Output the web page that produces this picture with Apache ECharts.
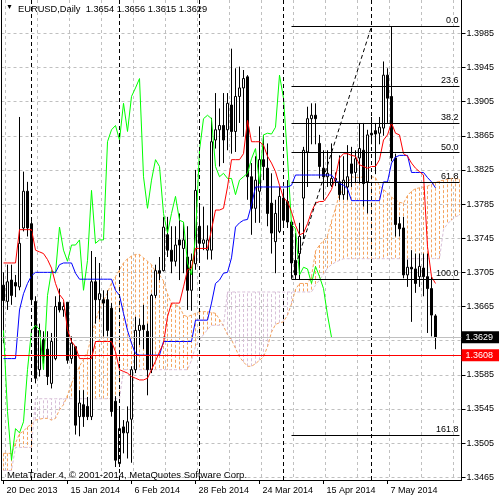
<!DOCTYPE html>
<html><head><meta charset="utf-8">
<script src="https://cdn.jsdelivr.net/npm/echarts@6/dist/echarts.min.js"></script>
<style>html,body{margin:0;padding:0;background:#fff}#c{width:500px;height:500px}</style>
</head><body><div id="c"></div>
<script>
const FONT = '"Liberation Sans", Arial, sans-serif';
const dates = [
'20 Dec 2013','23 Dec 2013','24 Dec 2013','26 Dec 2013','27 Dec 2013','30 Dec 2013','31 Dec 2013',
'2 Jan 2014','3 Jan 2014','6 Jan 2014','7 Jan 2014','8 Jan 2014','9 Jan 2014','10 Jan 2014','13 Jan 2014','14 Jan 2014','15 Jan 2014','16 Jan 2014','17 Jan 2014','20 Jan 2014','21 Jan 2014','22 Jan 2014','23 Jan 2014','24 Jan 2014','27 Jan 2014','28 Jan 2014','29 Jan 2014','30 Jan 2014','31 Jan 2014',
'3 Feb 2014','4 Feb 2014','5 Feb 2014','6 Feb 2014','7 Feb 2014','10 Feb 2014','11 Feb 2014','12 Feb 2014','13 Feb 2014','14 Feb 2014','17 Feb 2014','18 Feb 2014','19 Feb 2014','20 Feb 2014','21 Feb 2014','24 Feb 2014','25 Feb 2014','26 Feb 2014','27 Feb 2014','28 Feb 2014',
'3 Mar 2014','4 Mar 2014','5 Mar 2014','6 Mar 2014','7 Mar 2014','10 Mar 2014','11 Mar 2014','12 Mar 2014','13 Mar 2014','14 Mar 2014','17 Mar 2014','18 Mar 2014','19 Mar 2014','20 Mar 2014','21 Mar 2014','24 Mar 2014','25 Mar 2014','26 Mar 2014','27 Mar 2014','28 Mar 2014','31 Mar 2014',
'1 Apr 2014','2 Apr 2014','3 Apr 2014','4 Apr 2014','7 Apr 2014','8 Apr 2014','9 Apr 2014','10 Apr 2014','11 Apr 2014','14 Apr 2014','15 Apr 2014','16 Apr 2014','17 Apr 2014','18 Apr 2014','21 Apr 2014','22 Apr 2014','23 Apr 2014','24 Apr 2014','25 Apr 2014','28 Apr 2014','29 Apr 2014','30 Apr 2014',
'1 May 2014','2 May 2014','5 May 2014','6 May 2014','7 May 2014','8 May 2014','9 May 2014','12 May 2014','13 May 2014','14 May 2014','15 May 2014','16 May 2014','19 May 2014','20 May 2014','21 May 2014','22 May 2014','23 May 2014'];
const futureDates = ['26 May 2014','27 May 2014','28 May 2014','29 May 2014','30 May 2014','2 Jun 2014'];

const opens = [
1.3690,1.3671,1.3696,1.3693,1.3688,1.3757,1.3800,1.3762,1.3671,1.3591,
1.3626,1.3615,1.3575,1.3604,1.3670,1.3661,1.3670,1.3604,1.3618,1.3536,
1.3550,1.3548,1.3536,1.3694,1.3673,1.3673,1.3673,1.3663,1.3554,1.3481,
1.3524,1.3517,1.3533,1.3591,1.3637,1.3643,1.3636,1.3591,1.3678,1.3707,
1.3707,1.3749,1.3731,1.3718,1.3743,1.3733,1.3723,1.3684,1.3715,1.3759,
1.3739,1.3731,1.3731,1.3860,1.3872,1.3877,1.3872,1.3901,1.3870,1.3911,
1.3921,1.3934,1.3817,1.3780,1.3800,1.3837,1.3827,1.3786,1.3741,1.3753,
1.3792,1.3788,1.3764,1.3719,1.3727,1.3792,1.3846,1.3885,1.3889,1.3856,
1.3827,1.3817,1.3807,1.3813,1.3811,1.3796,1.3805,1.3832,1.3822,1.3839,
1.3848,1.3811,1.3866,1.3871,1.3868,1.3874,1.3936,1.3911,1.3839,1.3762,
1.3757,1.3702,1.3711,1.3709,1.3700,1.3710,1.3700,1.3686,1.3654];
const highs = [
1.3705,1.3714,1.3714,1.3702,1.3887,1.3823,1.3811,1.3765,1.3677,1.3645,
1.3636,1.3636,1.3634,1.3677,1.3686,1.3670,1.3670,1.3630,1.3618,1.3567,
1.3567,1.3559,1.3730,1.3723,1.3716,1.3684,1.3684,1.3669,1.3560,1.3545,
1.3532,1.3548,1.3595,1.3653,1.3651,1.3667,1.3645,1.3680,1.3714,1.3723,
1.3770,1.3770,1.3759,1.3759,1.3774,1.3764,1.3759,1.3727,1.3825,1.3782,
1.3782,1.3760,1.3886,1.3915,1.3897,1.3915,1.3915,1.3967,1.3944,1.3946,
1.3942,1.3936,1.3833,1.3841,1.3876,1.3866,1.3856,1.3821,1.3790,1.3805,
1.3803,1.3813,1.3766,1.3751,1.3763,1.3852,1.3899,1.3903,1.3903,1.3866,
1.3848,1.3848,1.3856,1.3822,1.3842,1.3841,1.3854,1.3852,1.3848,1.3880,
1.3880,1.3872,1.3887,1.3880,1.3887,1.3952,1.3944,1.3993,1.3844,1.3770,
1.3770,1.3720,1.3731,1.3727,1.3727,1.3727,1.3727,1.3700,1.3656];
const lows = [
1.3622,1.3661,1.3667,1.3676,1.3684,1.3753,1.3747,1.3669,1.3575,1.3583,
1.3598,1.3573,1.3569,1.3602,1.3658,1.3653,1.3598,1.3598,1.3515,1.3513,
1.3524,1.3532,1.3532,1.3645,1.3650,1.3630,1.3630,1.3536,1.3477,1.3477,
1.3493,1.3487,1.3482,1.3587,1.3620,1.3615,1.3561,1.3587,1.3675,1.3696,
1.3706,1.3723,1.3704,1.3712,1.3696,1.3704,1.3661,1.3660,1.3708,1.3719,
1.3731,1.3720,1.3720,1.3850,1.3829,1.3833,1.3848,1.3844,1.3846,1.3880,
1.3864,1.3790,1.3749,1.3763,1.3763,1.3813,1.3759,1.3727,1.3704,1.3751,
1.3759,1.3757,1.3698,1.3696,1.3696,1.3744,1.3805,1.3855,1.3855,1.3815,
1.3790,1.3805,1.3805,1.3806,1.3790,1.3790,1.3790,1.3805,1.3810,1.3809,
1.3782,1.3774,1.3855,1.3820,1.3855,1.3865,1.3880,1.3835,1.3747,1.3747,
1.3698,1.3688,1.3647,1.3681,1.3688,1.3677,1.3634,1.3630,1.3615];
const closes = [
1.3672,1.3694,1.3678,1.3689,1.3739,1.3800,1.3757,1.3673,1.3581,1.3637,
1.3606,1.3583,1.3624,1.3665,1.3661,1.3665,1.3602,1.3622,1.3526,1.3552,
1.3536,1.3536,1.3694,1.3673,1.3680,1.3669,1.3637,1.3542,1.3485,1.3522,
1.3517,1.3530,1.3591,1.3637,1.3643,1.3638,1.3591,1.3678,1.3707,1.3704,
1.3758,1.3731,1.3718,1.3737,1.3737,1.3743,1.3684,1.3719,1.3801,1.3739,
1.3743,1.3743,1.3858,1.3872,1.3877,1.3860,1.3903,1.3870,1.3911,1.3921,
1.3932,1.3817,1.3780,1.3813,1.3837,1.3829,1.3774,1.3751,1.3774,1.3794,
1.3766,1.3764,1.3716,1.3702,1.3747,1.3848,1.3885,1.3889,1.3885,1.3829,
1.3817,1.3821,1.3815,1.3815,1.3796,1.3813,1.3817,1.3821,1.3838,1.3850,
1.3809,1.3866,1.3868,1.3867,1.3875,1.3936,1.3909,1.3839,1.3761,1.3756,
1.3702,1.3711,1.3709,1.3692,1.3712,1.3700,1.3686,1.3655,1.3629];

const tenkan = [
1.3716,1.3716,1.3716,1.3716,1.3755,1.3755,1.3755,1.3755,1.3731,1.3729,
1.3727,1.3720,1.3710,1.3692,1.3679,1.3673,1.3638,1.3624,1.3618,1.3604,
1.3604,1.3604,1.3604,1.3624,1.3624,1.3624,1.3624,1.3624,1.3612,1.3591,
1.3589,1.3587,1.3583,1.3581,1.3579,1.3579,1.3581,1.3591,1.3601,1.3612,
1.3622,1.3653,1.3669,1.3669,1.3669,1.3688,1.3708,1.3710,1.3733,1.3733,
1.3733,1.3733,1.3755,1.3778,1.3778,1.3780,1.3805,1.3837,1.3837,1.3837,
1.3844,1.3883,1.3858,1.3858,1.3858,1.3854,1.3841,1.3833,1.3823,1.3807,
1.3792,1.3788,1.3776,1.3760,1.3749,1.3751,1.3762,1.3776,1.3786,1.3788,
1.3788,1.3794,1.3802,1.3817,1.3839,1.3844,1.3844,1.3842,1.3841,1.3831,
1.3829,1.3827,1.3829,1.3829,1.3837,1.3860,1.3866,1.3880,1.3868,1.3866,
1.3844,1.3841,1.3833,1.3827,1.3823,1.3819,1.3735,1.3700,1.3692];
const kijun = [
1.3604,1.3604,1.3604,1.3604,1.3661,1.3680,1.3692,1.3701,1.3705,1.3705,
1.3705,1.3705,1.3705,1.3705,1.3714,1.3716,1.3716,1.3716,1.3704,1.3697,
1.3697,1.3697,1.3697,1.3697,1.3697,1.3697,1.3697,1.3697,1.3684,1.3678,
1.3657,1.3637,1.3622,1.3610,1.3608,1.3608,1.3608,1.3608,1.3608,1.3608,
1.3624,1.3624,1.3624,1.3624,1.3624,1.3624,1.3624,1.3624,1.3649,1.3649,
1.3649,1.3649,1.3669,1.3692,1.3696,1.3704,1.3705,1.3722,1.3758,1.3763,
1.3766,1.3767,1.3784,1.3805,1.3805,1.3805,1.3805,1.3805,1.3805,1.3805,
1.3805,1.3805,1.3807,1.3819,1.3819,1.3819,1.3819,1.3819,1.3819,1.3819,
1.3819,1.3819,1.3819,1.3813,1.3809,1.3807,1.3803,1.3789,1.3789,1.3789,
1.3789,1.3789,1.3789,1.3789,1.3789,1.3811,1.3811,1.3833,1.3840,1.3842,
1.3842,1.3842,1.3822,1.3822,1.3822,1.3822,1.3816,1.3811,1.3804];
const chikou = [
1.3637,1.3542,1.3485,1.3522,
1.3517,1.3530,1.3591,1.3637,1.3643,1.3638,1.3591,1.3678,1.3707,1.3704,
1.3758,1.3731,1.3718,1.3737,1.3737,1.3743,1.3684,1.3719,1.3801,1.3739,
1.3743,1.3743,1.3858,1.3872,1.3877,1.3860,1.3903,1.3870,1.3911,1.3921,
1.3932,1.3817,1.3780,1.3813,1.3837,1.3829,1.3774,1.3751,1.3774,1.3794,
1.3766,1.3764,1.3716,1.3702,1.3747,1.3848,1.3885,1.3889,1.3885,1.3829,
1.3817,1.3821,1.3815,1.3815,1.3796,1.3813,1.3817,1.3821,1.3838,1.3850,
1.3809,1.3866,1.3868,1.3867,1.3875,1.3936,1.3909,1.3839,1.3761,1.3756,
1.3702,1.3711,1.3709,1.3692,1.3712,1.3700,1.3686,1.3655,1.3629];
const spanA = [
1.3493,1.3493,1.3493,1.3505,1.3516,1.3519,1.3524,1.3527,1.3532,1.3533,
1.3534,1.3534,1.3532,1.3534,1.3544,1.3550,1.3561,1.3575,1.3585,1.3595,
1.3603,1.3612,1.3630,1.3648,1.3662,1.3672,1.3681,1.3693,1.3700,1.3708,
1.3716,1.3721,1.3724,1.3726,1.3726,1.3722,1.3718,1.3714,1.3706,1.3702,
1.3695,1.3680,1.3668,1.3667,1.3665,1.3655,1.3653,1.3655,1.3657,1.3659,
1.3659,1.3659,1.3658,1.3657,1.3650,1.3642,1.3632,1.3626,1.3616,1.3606,
1.3600,1.3595,1.3595,1.3598,1.3602,1.3606,1.3618,1.3635,1.3644,1.3646,
1.3647,1.3655,1.3668,1.3685,1.3692,1.3692,1.3692,1.3700,1.3730,1.3737,
1.3742,1.3748,1.3765,1.3780,1.3797,1.3801,1.3809,1.3817,1.3816,1.3816,
1.3817,1.3817,1.3817,1.3816,1.3806,1.3802,1.3798,1.3793,1.3790,1.3787,
1.3786,1.3795,1.3800,1.3803,1.3804,1.3805,1.3806,1.3808,1.3810,1.3812,
1.3813,1.3814,1.3815,1.3815,1.3814];
const spanB = [
1.3473,1.3473,1.3473,1.3500,1.3500,1.3500,1.3500,1.3500,1.3557,1.3557,
1.3557,1.3557,1.3557,1.3557,1.3557,1.3557,1.3557,1.3557,1.3557,1.3557,
1.3557,1.3557,1.3557,1.3557,1.3557,1.3557,1.3557,1.3557,1.3557,1.3557,
1.3591,1.3591,1.3591,1.3591,1.3591,1.3591,1.3591,1.3591,1.3591,1.3591,
1.3591,1.3591,1.3591,1.3591,1.3591,1.3591,1.3591,1.3602,1.3618,1.3626,
1.3632,1.3638,1.3643,1.3643,1.3643,1.3643,1.3682,1.3682,1.3682,1.3682,
1.3682,1.3682,1.3682,1.3682,1.3682,1.3682,1.3682,1.3682,1.3682,1.3682,
1.3682,1.3682,1.3682,1.3682,1.3682,1.3682,1.3682,1.3682,1.3690,1.3696,
1.3703,1.3710,1.3714,1.3717,1.3719,1.3721,1.3721,1.3721,1.3721,1.3721,
1.3721,1.3721,1.3721,1.3721,1.3721,1.3721,1.3721,1.3721,1.3721,1.3721,
1.3721,1.3721,1.3721,1.3721,1.3721,1.3721,1.3721,1.3721,1.3721,1.3721,
1.3755,1.3762,1.3766,1.3770,1.3772];

const yTicks = [1.3465,1.3505,1.3545,1.3585,1.3625,1.3665,1.3705,1.3745,1.3785,1.3825,1.3865,1.3905,1.3945,1.3985];
const yLabelTicks = [1.3465,1.3505,1.3545,1.3585,1.3665,1.3705,1.3745,1.3785,1.3825,1.3865,1.3905,1.3945,1.3985];
const yMin = 1.34618, yMax = 1.40240;
const separators = ['2 Jan 2014','3 Feb 2014','3 Mar 2014','1 Apr 2014','1 May 2014'];
const fibLevels = [0, 23.6, 38.2, 50, 61.8, 100, 161.8];
const fibHigh = 1.39932, fibLow = 1.36972;
const fibStart = '3 Apr 2014', fibDiagEnd = '1 May 2014';
const bidPrice = 1.3629, hLinePrice = 1.3608;

const SANDY = '#F4A460', THISTLE = '#D8BFD8';
const cats = dates.concat(futureDates);
const n = dates.length;
const lastCat = cats[cats.length - 1];
const candleData = opens.map((o, i) => [o, closes[i], lows[i], highs[i]]);
const cloudUp = [], cloudDown = [];
spanA.forEach((a, i) => {
  const seg = {coords: [[i, a], [i, spanB[i]]]};
  (a >= spanB[i] ? cloudUp : cloudDown).push(seg);
});
const fibLines = fibLevels.map(l => {
  const v = fibHigh - (fibHigh - fibLow) * l / 100;
  return [{coord: [fibStart, v], name: l.toFixed(1)}, {coord: [lastCat, v]}];
});

const chart = echarts.init(document.getElementById('c'));
const txt = {fontFamily: FONT, fontSize: 9, color: '#000'};
const priceLabel = (v, bg) => ({show: true, position: 'end', distance: 0, formatter: v.toFixed(4), backgroundColor: bg,
  padding: [2, 6, 1, 4], fontFamily: FONT, fontSize: 9, color: '#fff'});

chart.setOption({
  animation: false,
  backgroundColor: '#fff',
  title: [
    {text: '\u25BC', left: 6, top: 4, padding: 0, textStyle: {fontFamily: FONT, fontSize: 7, color: '#000', fontWeight: 'normal'}},
    {text: 'EURUSD,Daily  ' + [opens[n-1], highs[n-1], lows[n-1], closes[n-1]].map(v => v.toFixed(4)).join(' '),
     left: 18, top: 5, padding: 0, textStyle: {fontFamily: FONT, fontSize: 9.3, color: '#000', fontWeight: 'normal'}},
    {text: 'MetaTrader 4, \u00A9 2001-2014, MetaQuotes Software Corp.', left: 7, top: 470, padding: 0,
     textStyle: {fontFamily: FONT, fontSize: 9.5, color: '#000', fontWeight: 'normal'}}
  ],
  grid: {left: 1.5, right: 38.5, top: 0, bottom: 20, containLabel: false},
  xAxis: {
    type: 'category', data: cats, boundaryGap: true,
    axisLine: {show: true, lineStyle: {color: '#000', width: 1}},
    axisTick: {show: true, alignWithLabel: true, length: 4, lineStyle: {color: '#000'},
      interval: (i) => i % 16 === 0 && i < n},
    axisLabel: {show: true, interval: (i) => i % 16 === 0 && i < n, align: 'left', margin: 6,
      padding: [0, 0, 0, 3], ...txt},
    splitLine: {show: true, interval: (i) => i % 8 === 1, lineStyle: {color: '#C0C0C0', type: [3, 3], width: 1}}
  },
  yAxis: [
    {type: 'value', position: 'right', min: yMin, max: yMax, scale: true,
     axisLine: {show: true, lineStyle: {color: '#000', width: 1}},
     axisTick: {show: true, customValues: yTicks, length: 4, lineStyle: {color: '#000'}},
     axisLabel: {show: true, customValues: yLabelTicks, margin: 5, formatter: v => v.toFixed(4), ...txt},
     splitLine: {show: true, lineStyle: {color: '#C0C0C0', type: [3, 3], width: 1}}},
    {type: 'value', position: 'left', min: yMin, max: yMax, scale: true,
     axisLine: {show: true, lineStyle: {color: '#000', width: 1}},
     axisTick: {show: false}, axisLabel: {show: false}, splitLine: {show: false}}
  ],
  series: [
    {type: 'lines', name: 'CloudUp', coordinateSystem: 'cartesian2d', z: 1, silent: true, polyline: false,
     lineStyle: {color: SANDY, width: 1, type: [3, 2], opacity: 1, curveness: 0}, data: cloudUp},
    {type: 'lines', name: 'CloudDown', coordinateSystem: 'cartesian2d', z: 1, silent: true, polyline: false,
     lineStyle: {color: THISTLE, width: 1, type: [3, 2], opacity: 1, curveness: 0}, data: cloudDown},
    {type: 'line', name: 'SpanA', z: 2, data: spanA, symbol: 'none', silent: true,
     lineStyle: {color: SANDY, width: 1, type: [3, 2]}},
    {type: 'line', name: 'SpanB', z: 2, data: spanB, symbol: 'none', silent: true,
     lineStyle: {color: THISTLE, width: 1, type: [3, 2]},
     markLine: {symbol: 'none', silent: true, animation: false, label: {show: false},
       lineStyle: {color: '#000', type: [4, 3], width: 1},
       data: separators.map(d => ({xAxis: d}))}},
    {type: 'candlestick', name: 'EURUSD', z: 3, data: candleData, barWidth: 2, silent: true,
     itemStyle: {color: '#FFFFFF', color0: '#000000', borderColor: '#000000', borderColor0: '#000000', borderWidth: 1},
     markLine: {symbol: 'none', silent: true, animation: false, precision: 5,
       lineStyle: {color: '#000', type: 'solid', width: 1},
       label: {show: true, position: 'insideEndTop', formatter: '{b}', distance: 1, ...txt},
       data: fibLines.concat([[{coord: [fibStart, fibLow], name: '', lineStyle: {type: [4, 3]}, label: {show: false}},
                               {coord: [fibDiagEnd, fibHigh]}]])}},
    {type: 'line', name: 'Chikou', z: 4, data: chikou, symbol: 'none', silent: true,
     lineStyle: {color: '#00FF00', width: 1}},
    {type: 'line', name: 'Kijun', z: 4, data: kijun, symbol: 'none', silent: true,
     lineStyle: {color: '#0000FF', width: 1}},
    {type: 'line', name: 'Tenkan', z: 4, data: tenkan, symbol: 'none', silent: true,
     lineStyle: {color: '#FF0000', width: 1},
     markLine: {symbol: 'none', silent: true, animation: false, precision: 5,
       data: [
         {yAxis: bidPrice, lineStyle: {color: '#C0C0C0', type: 'solid', width: 1}, label: priceLabel(bidPrice, '#000000')},
         {yAxis: hLinePrice, lineStyle: {color: '#FF0000', type: 'solid', width: 1}, label: priceLabel(hLinePrice, '#FF0000')}
       ]}}
  ]
});
</script></body></html>
